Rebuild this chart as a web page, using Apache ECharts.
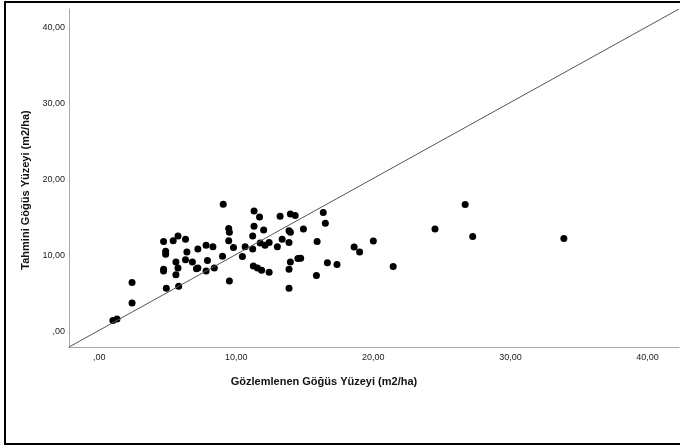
<!DOCTYPE html>
<html>
<head>
<meta charset="utf-8">
<script src="https://cdn.jsdelivr.net/npm/echarts@6/dist/echarts.min.js"></script>
<style>
  html, body { margin: 0; padding: 0; background: #fff; }
  #chart { width: 680px; height: 445px; }
</style>
</head>
<body>
<div id="chart"></div>
<script>
const observed = [
  1.0, 1.3, 2.4, 2.4, 4.7, 4.85, 4.85, 4.7, 4.7, 4.9,
  5.4, 5.75, 6.3, 5.6, 5.75, 5.6, 5.8, 6.4, 6.3, 6.8,
  7.2, 7.1, 7.2, 7.8, 7.9, 7.8, 8.3, 8.4, 9.05, 9.0,
  9.45, 9.5, 9.45, 9.8, 9.5, 10.45, 10.65, 11.2, 11.3, 11.3,
  11.2, 11.25, 11.55, 11.85, 12.4, 11.7, 12.0, 11.75, 12.1, 12.4,
  13.2, 13.0, 13.35, 13.95, 14.3, 13.85, 13.95, 13.85, 13.95, 13.85,
  13.85, 14.5, 14.7, 14.9, 15.9, 15.85, 16.35, 16.5, 16.65, 17.35,
  18.6, 19.0, 20.0, 21.45, 24.5, 26.7, 27.25, 33.9
]
const predicted = [
  1.5, 1.7, 3.8, 6.5, 11.9, 10.6, 10.2, 8.25, 8.0, 5.75,
  12.0, 12.6, 12.2, 9.2, 8.4, 7.5, 6.0, 10.5, 9.5, 9.2,
  10.9, 8.3, 8.4, 11.4, 9.4, 8.0, 11.2, 8.4, 16.8, 9.95,
  13.6, 13.1, 12.0, 11.1, 6.7, 9.9, 11.2, 12.6, 15.9, 13.9,
  10.9, 8.65, 8.4, 8.1, 7.85, 15.1, 13.4, 11.7, 11.4, 11.75,
  15.2, 11.2, 12.2, 15.5, 15.3, 13.3, 13.1, 11.75, 9.2, 8.25,
  5.75, 9.65, 9.7, 13.55, 11.9, 7.4, 15.7, 14.3, 9.1, 8.85,
  11.15, 10.5, 11.95, 8.6, 13.55, 16.75, 12.55, 12.3
]

const xTicks = [0, 10, 20, 30, 40]
const yTicks = [0, 10, 20, 30, 40]
const tickLabels = [',00', '10,00', '20,00', '30,00', '40,00']

const xRange = [-2.2, 42.3]
const yRange = [-2.0, 42.5]

const xTitle = 'Gözlemlenen Göğüs Yüzeyi (m2/ha)'
const yTitle = 'Tahmini Göğüs Yüzeyi (m2/ha)'

const points = observed.map((x, i) => [x, predicted[i]])
// reference line drawn corner to corner of the plot
const refLine = [[xRange[0], yRange[0]], [xRange[1], yRange[1]]]

const tickText = (ticks) => (v) => {
  const i = ticks.indexOf(v)
  return i >= 0 ? tickLabels[i] : ''
}

const axisCommon = {
  type: 'value',
  axisLine: { onZero: false, lineStyle: { color: '#a8a8a8', width: 1 } },
  axisTick: { show: false },
  splitLine: { show: false }
}

const chart = echarts.init(document.getElementById('chart'))
chart.setOption({
  animation: false,
  backgroundColor: '#fff',
  grid: { left: 69, top: 9, right: 1, bottom: 98, containLabel: false },
  xAxis: Object.assign({}, axisCommon, {
    min: xRange[0],
    max: xRange[1],
    axisLabel: {
      customValues: xTicks,
      formatter: tickText(xTicks),
      fontFamily: 'Liberation Sans',
      fontSize: 9,
      color: '#222',
      margin: 6
    }
  }),
  yAxis: Object.assign({}, axisCommon, {
    min: yRange[0],
    max: yRange[1],
    axisLabel: {
      customValues: yTicks,
      formatter: tickText(yTicks),
      fontFamily: 'Liberation Sans',
      fontSize: 9,
      color: '#222',
      margin: 4
    }
  }),
  graphic: [
    {
      type: 'rect',
      shape: { x: 5, y: 2, width: 720, height: 442 },
      style: { fill: 'none', stroke: '#000', lineWidth: 2 },
      silent: true
    },
    {
      type: 'text',
      x: 324,
      y: 382,
      style: {
        text: xTitle,
        fontFamily: 'Liberation Sans',
        fontWeight: 'bold',
        fontSize: 11,
        fill: '#111',
        align: 'center',
        verticalAlign: 'middle'
      }
    },
    {
      type: 'text',
      x: 26,
      y: 190,
      rotation: Math.PI / 2,
      style: {
        text: yTitle,
        fontFamily: 'Liberation Sans',
        fontWeight: 'bold',
        fontSize: 11,
        fill: '#111',
        align: 'center',
        verticalAlign: 'middle'
      }
    }
  ],
  series: [
    {
      type: 'line',
      data: refLine,
      showSymbol: false,
      lineStyle: { color: '#555', width: 1 },
      silent: true
    },
    {
      type: 'scatter',
      data: points,
      symbolSize: 7,
      itemStyle: { color: '#000', opacity: 1 }
    }
  ]
})
</script>
</body>
</html>
